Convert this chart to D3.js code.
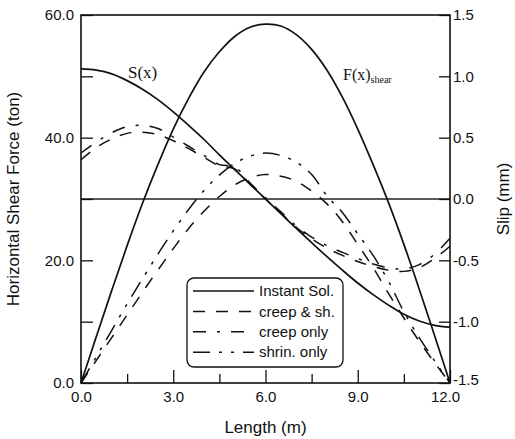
<!DOCTYPE html>
<html>
<head>
<meta charset="utf-8">
<script src="https://cdn.jsdelivr.net/npm/d3@7.9.0/dist/d3.min.js"></script>
<style>
  body { margin: 0; background: #fff; }
  svg text { font-family: "Liberation Sans", Arial, Helvetica, sans-serif; fill: #111; }
  .serif { font-family: "Liberation Serif", "Times New Roman", serif !important; }
</style>
</head>
<body>
<svg width="515" height="439"></svg>
<script>
// positions along the beam (m)
const lengthM = [0, 0.5, 1, 1.5, 2, 2.5, 3, 3.5, 4, 4.5, 5, 5.5, 6,
                 6.5, 7, 7.5, 8, 8.5, 9, 9.5, 10, 10.5, 11, 11.5, 12];

// horizontal shear force (ton), left axis
const forceInstant = [0, 7.6, 15.1, 22.4, 29.3, 35.6, 41.4, 46.4, 50.7, 54.0, 56.5, 58.0, 58.5,
                      58.2, 56.8, 54.4, 51.0, 46.6, 41.4, 35.6, 29.4, 22.6, 15.3, 7.7, 0];
const forceShrin = [0, 4.3, 8.6, 12.9, 17.0, 21.0, 24.8, 28.3, 31.4, 33.9, 35.8, 37.0, 37.5,
                    37.1, 36.0, 34.0, 30.5, 27.8, 24.3, 20.8, 16.6, 11.6, 7.4, 3.6, 0];
const forceCreepSh = [0, 3.7, 7.4, 11.1, 14.8, 18.4, 21.9, 25.2, 28.0, 30.4, 32.3, 33.5, 34.0,
                      33.7, 32.9, 31.3, 29.2, 26.3, 22.6, 18.8, 14.6, 10.6, 6.8, 3.3, 0];

// slip (mm), right axis
const slipInstant = [1.06, 1.05, 1.02, 0.965, 0.895, 0.81, 0.71, 0.6, 0.485, 0.36, 0.24, 0.12, 0,
                     -0.12, -0.24, -0.355, -0.47, -0.58, -0.685, -0.78, -0.865, -0.94, -0.995, -1.03, -1.045];
const slipCreep = [0.375, 0.465, 0.54, 0.59, 0.6, 0.575, 0.505, 0.43, 0.355, 0.28, 0.26, 0.13, 0.01,
                   -0.105, -0.22, -0.31, -0.38, -0.435, -0.485, -0.53, -0.56, -0.57, -0.535, -0.45, -0.32];
const slipCreepSh = [0.32, 0.42, 0.49, 0.535, 0.545, 0.525, 0.475, 0.41, 0.34, 0.27, 0.245, 0.12, 0,
                     -0.115, -0.23, -0.325, -0.4, -0.46, -0.51, -0.55, -0.58, -0.59, -0.56, -0.485, -0.385];

const xTicks = [0, 1.5, 3, 4.5, 6, 7.5, 9, 10.5, 12];
const leftTicks = [0, 10, 20, 30, 40, 50, 60];
const rightTicks = [-1.5, -1.0, -0.5, 0, 0.5, 1.0, 1.5];

const legendLabels = ['Instant Sol.', 'creep & sh.', 'creep only', 'shrin. only'];
const dashes = {
  solid: null,
  dash: '12,11',
  dashdot: '13,11,3,11',
  dashdotdot: '17,9,3,9,3,9'
};
const legendDashes = [dashes.solid, dashes.dash, dashes.dashdot, dashes.dashdotdot];

const svg = d3.select('svg');
const pL = 81, pR = 450, pT = 15, pB = 383;

const x = d3.scaleLinear().domain([0, 12]).range([pL, pR]);
const yL = d3.scaleLinear().domain([0, 60]).range([pB, pT]);
const yR = d3.scaleLinear().domain([-1.5, 1.5]).range([pB, pT]);

// zero slip line
svg.append('line')
  .attr('x1', pL).attr('x2', pR)
  .attr('y1', yR(0)).attr('y2', yR(0))
  .attr('stroke', '#222').attr('stroke-width', 1.3);

// axes
const gL = svg.append('g').attr('transform', `translate(${pL},0)`)
  .call(d3.axisLeft(yL).tickValues(leftTicks).tickSizeInner(-12).tickSizeOuter(0).tickPadding(7)
    .tickFormat(d => d % 20 === 0 ? d.toFixed(1) : ''));
const gB = svg.append('g').attr('transform', `translate(0,${pB})`)
  .call(d3.axisBottom(x).tickValues(xTicks).tickSizeInner(-9).tickSizeOuter(0).tickPadding(8)
    .tickFormat(d => d % 3 === 0 ? d.toFixed(1) : ''));
gB.selectAll('.tick line').attr('y2', d => d % 3 === 0 ? -13 : -9);
gB.selectAll('.tick text').attr('dx', d => d === 12 ? -5 : 0);
const gR = svg.append('g').attr('transform', `translate(${pR},0)`)
  .call(d3.axisRight(yR).tickValues(rightTicks).tickSizeInner(-11).tickSizeOuter(0).tickPadding(3)
    .tickFormat(d => d.toFixed(1)));
gR.selectAll('.tick text').attr('dy', d => d === -1.5 ? '0.1em' : '0.32em');

[gL, gB, gR].forEach(g => {
  g.select('.domain').remove();
  g.selectAll('.tick line').attr('stroke', '#111').attr('stroke-width', 1.3);
  g.selectAll('.tick text').style('font-size', '15px').attr('fill', '#111');
});

// frame
svg.append('rect')
  .attr('x', pL).attr('y', pT)
  .attr('width', pR - pL).attr('height', pB - pT)
  .attr('fill', 'none').attr('stroke', '#111').attr('stroke-width', 1.6);

// curves
const lineL = d3.line().x((d, i) => x(lengthM[i])).y(d => yL(d)).curve(d3.curveCatmullRom);
const lineR = d3.line().x((d, i) => x(lengthM[i])).y(d => yR(d)).curve(d3.curveCatmullRom);

const curves = [
  { data: forceInstant, gen: lineL, dash: dashes.solid, w: 1.7 },
  { data: slipInstant, gen: lineR, dash: dashes.solid, w: 1.7 },
  { data: forceShrin, gen: lineL, dash: dashes.dashdotdot, w: 1.5 },
  { data: forceCreepSh, gen: lineL, dash: dashes.dash, w: 1.5 },
  { data: slipCreep, gen: lineR, dash: dashes.dashdot, w: 1.5 },
  { data: slipCreepSh, gen: lineR, dash: dashes.dash, w: 1.5 }
];

curves.forEach(c => {
  svg.append('path')
    .attr('d', c.gen(c.data))
    .attr('fill', 'none')
    .attr('stroke', '#111')
    .attr('stroke-width', c.w)
    .attr('stroke-dasharray', c.dash);
});

// curve labels
svg.append('text').attr('class', 'serif')
  .attr('x', 128).attr('y', 78).style('font-size', '17px').text('S(x)');
const fLab = svg.append('text').attr('class', 'serif')
  .attr('x', 343).attr('y', 80).style('font-size', '16px');
fLab.append('tspan').text('F(x)');
fLab.append('tspan').attr('dy', 3).style('font-size', '10px').text('shear');

// axis titles
svg.append('text')
  .attr('transform', `translate(19,${(pT + pB) / 2}) rotate(-90)`)
  .attr('text-anchor', 'middle').style('font-size', '17px')
  .text('Horizontal Shear Force (ton)');
svg.append('text')
  .attr('transform', `translate(509,${(pT + pB) / 2}) rotate(-90)`)
  .attr('text-anchor', 'middle').style('font-size', '17px')
  .text('Slip (mm)');
svg.append('text')
  .attr('x', (pL + pR) / 2).attr('y', 433)
  .attr('text-anchor', 'middle').style('font-size', '17px')
  .text('Length (m)');

// legend
const legend = svg.append('g');
legend.append('rect')
  .attr('x', 187).attr('y', 278).attr('width', 156).attr('height', 89)
  .attr('rx', 7).attr('fill', '#fff').attr('stroke', '#111').attr('stroke-width', 1.3);
legendLabels.forEach((lab, i) => {
  const yy = 291 + i * 20.4;
  legend.append('line')
    .attr('x1', 193).attr('x2', 254).attr('y1', yy).attr('y2', yy)
    .attr('stroke', '#111').attr('stroke-width', 1.5)
    .attr('stroke-dasharray', legendDashes[i]);
  legend.append('text')
    .attr('x', 259).attr('y', yy).attr('dy', '0.35em')
    .style('font-size', '15px').text(lab);
});
</script>
</body>
</html>
